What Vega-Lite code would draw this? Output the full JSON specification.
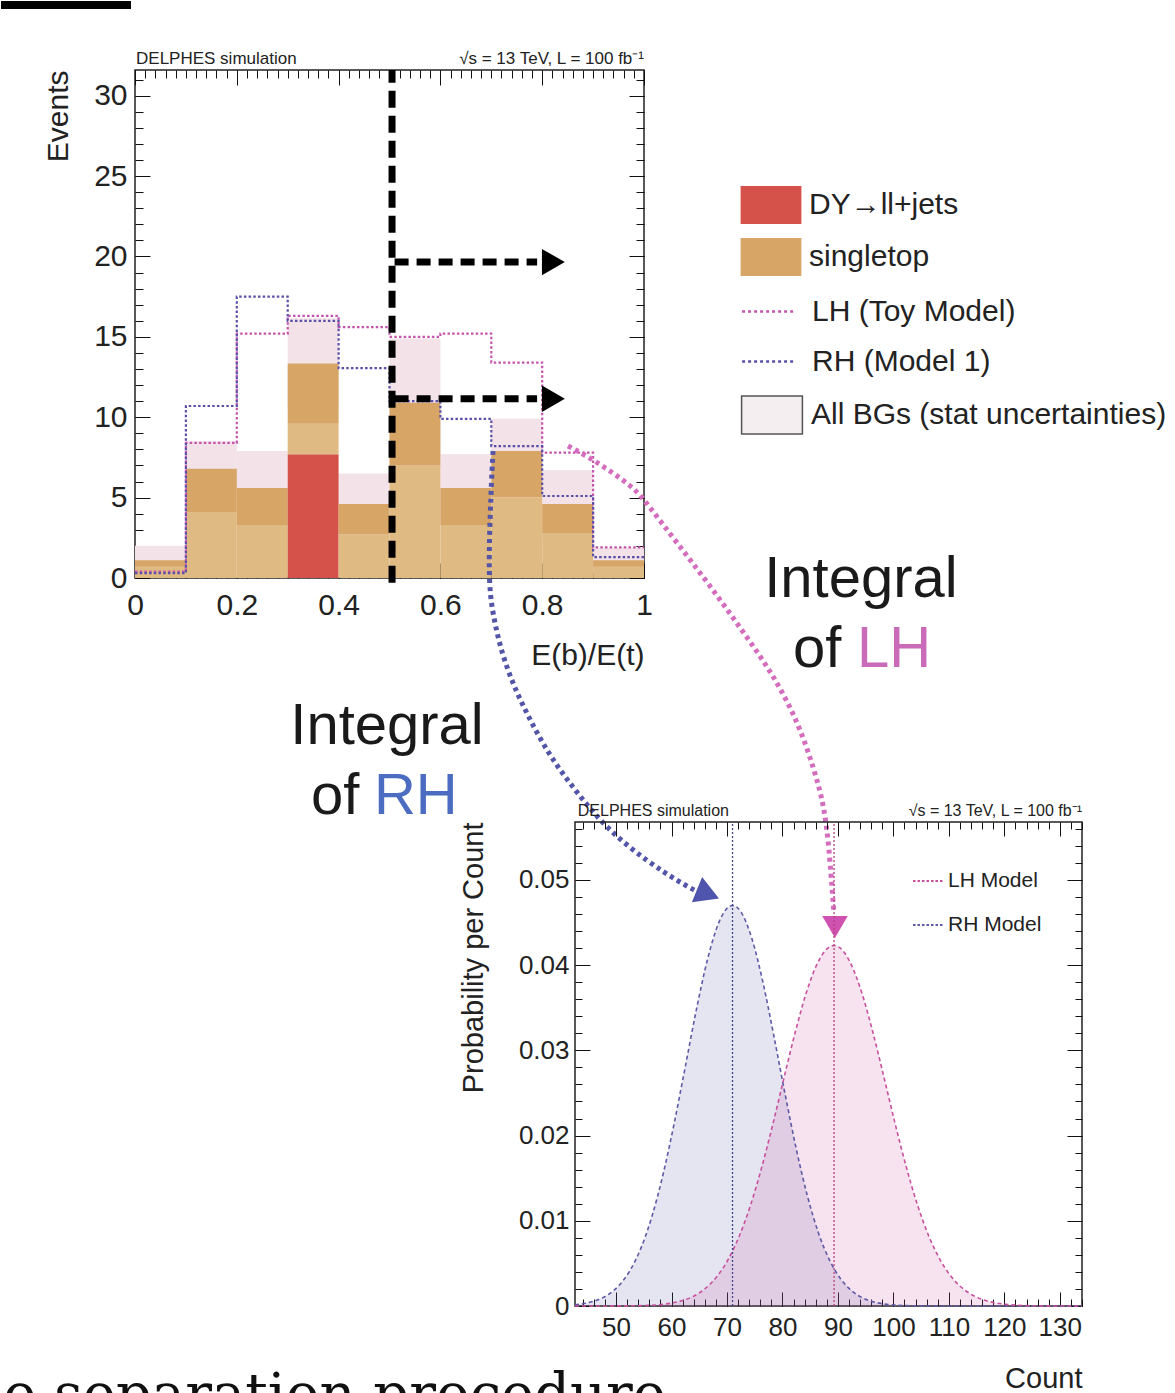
{
  "$schema": "https://vega.github.io/schema/vega-lite/v6.json",
  "padding": 0,
  "background": "white",
  "config": {
    "font": "Liberation Sans",
    "view": {"stroke": "#222", "strokeWidth": 1.5},
    "axis": {"domain": false, "grid": false, "tickColor": "#111", "tickWidth": 1, "labelColor": "#222", "titleColor": "#222", "titleFontWeight": "normal", "labelFont": "Liberation Sans", "titleFont": "Liberation Sans"},
    "legend": {"labelFont": "Liberation Sans"}
  },
  "datasets": {
    "stack": [
      {"lo": 0, "hi": 0.1, "process": "other BGs", "ord": 1, "events": 0.7},
      {"lo": 0, "hi": 0.1, "process": "singletop", "ord": 2, "events": 0.4},
      {"lo": 0.1, "hi": 0.2, "process": "other BGs", "ord": 1, "events": 4.1},
      {"lo": 0.1, "hi": 0.2, "process": "singletop", "ord": 2, "events": 2.7},
      {"lo": 0.2, "hi": 0.3, "process": "other BGs", "ord": 1, "events": 3.3},
      {"lo": 0.2, "hi": 0.3, "process": "singletop", "ord": 2, "events": 2.3},
      {"lo": 0.3, "hi": 0.4, "process": "DY→ll+jets", "ord": 0, "events": 7.7},
      {"lo": 0.3, "hi": 0.4, "process": "other BGs", "ord": 1, "events": 1.9},
      {"lo": 0.3, "hi": 0.4, "process": "singletop", "ord": 2, "events": 3.75},
      {"lo": 0.4, "hi": 0.5, "process": "other BGs", "ord": 1, "events": 2.7},
      {"lo": 0.4, "hi": 0.5, "process": "singletop", "ord": 2, "events": 1.9},
      {"lo": 0.5, "hi": 0.6, "process": "other BGs", "ord": 1, "events": 7.0},
      {"lo": 0.5, "hi": 0.6, "process": "singletop", "ord": 2, "events": 3.9},
      {"lo": 0.6, "hi": 0.7, "process": "other BGs", "ord": 1, "events": 3.3},
      {"lo": 0.6, "hi": 0.7, "process": "singletop", "ord": 2, "events": 2.3},
      {"lo": 0.7, "hi": 0.8, "process": "other BGs", "ord": 1, "events": 5.0},
      {"lo": 0.7, "hi": 0.8, "process": "singletop", "ord": 2, "events": 2.9},
      {"lo": 0.8, "hi": 0.9, "process": "other BGs", "ord": 1, "events": 2.8},
      {"lo": 0.8, "hi": 0.9, "process": "singletop", "ord": 2, "events": 1.8},
      {"lo": 0.9, "hi": 1.0, "process": "other BGs", "ord": 1, "events": 0.7},
      {"lo": 0.9, "hi": 1.0, "process": "singletop", "ord": 2, "events": 0.4}
    ],
    "band": [
      {"lo": 0, "hi": 0.1, "lower": 0.2, "upper": 2.0},
      {"lo": 0.1, "hi": 0.2, "lower": 5.1, "upper": 8.5},
      {"lo": 0.2, "hi": 0.3, "lower": 3.3, "upper": 7.9},
      {"lo": 0.3, "hi": 0.4, "lower": 10.55, "upper": 16.15},
      {"lo": 0.4, "hi": 0.5, "lower": 2.7, "upper": 6.5},
      {"lo": 0.5, "hi": 0.6, "lower": 6.9, "upper": 14.9},
      {"lo": 0.6, "hi": 0.7, "lower": 3.5, "upper": 7.7},
      {"lo": 0.7, "hi": 0.8, "lower": 5.9, "upper": 9.9},
      {"lo": 0.8, "hi": 0.9, "lower": 2.5, "upper": 6.7},
      {"lo": 0.9, "hi": 1.0, "lower": 0.3, "upper": 1.9}
    ],
    "steps": [
      {"model": "LH (Toy Model)", "x": 0, "events": 0.4},
      {"model": "LH (Toy Model)", "x": 0.1, "events": 8.4},
      {"model": "LH (Toy Model)", "x": 0.2, "events": 15.2},
      {"model": "LH (Toy Model)", "x": 0.3, "events": 16.3},
      {"model": "LH (Toy Model)", "x": 0.4, "events": 15.6},
      {"model": "LH (Toy Model)", "x": 0.5, "events": 15.0},
      {"model": "LH (Toy Model)", "x": 0.6, "events": 15.2},
      {"model": "LH (Toy Model)", "x": 0.7, "events": 13.4},
      {"model": "LH (Toy Model)", "x": 0.8, "events": 7.8},
      {"model": "LH (Toy Model)", "x": 0.9, "events": 1.9},
      {"model": "LH (Toy Model)", "x": 1.0, "events": 1.9},
      {"model": "RH (Model 1)", "x": 0, "events": 0.3},
      {"model": "RH (Model 1)", "x": 0.1, "events": 10.7},
      {"model": "RH (Model 1)", "x": 0.2, "events": 17.5},
      {"model": "RH (Model 1)", "x": 0.3, "events": 16.0},
      {"model": "RH (Model 1)", "x": 0.4, "events": 13.05},
      {"model": "RH (Model 1)", "x": 0.5, "events": 11.0},
      {"model": "RH (Model 1)", "x": 0.6, "events": 9.9},
      {"model": "RH (Model 1)", "x": 0.7, "events": 8.2},
      {"model": "RH (Model 1)", "x": 0.8, "events": 5.1},
      {"model": "RH (Model 1)", "x": 0.9, "events": 1.3},
      {"model": "RH (Model 1)", "x": 1.0, "events": 1.3}
    ],
    "dashArrows": [{"y": 19.65}, {"y": 11.15}],
    "arrowRH": [
      {"i": 1, "x": 0.7034, "y": 7.9},
      {"i": 2, "x": 0.6994, "y": 5.47},
      {"i": 3, "x": 0.6935, "y": -0.12},
      {"i": 4, "x": 0.7034, "y": -2.3},
      {"i": 5, "x": 0.7191, "y": -4.54},
      {"i": 6, "x": 0.7446, "y": -6.78},
      {"i": 7, "x": 0.778, "y": -8.96},
      {"i": 8, "x": 0.8173, "y": -11.2},
      {"i": 9, "x": 0.8703, "y": -13.44},
      {"i": 10, "x": 0.9293, "y": -15.68},
      {"i": 11, "x": 1.0079, "y": -17.67},
      {"i": 12, "x": 1.0727, "y": -18.97},
      {"i": 13, "x": 1.1022, "y": -19.47}
    ],
    "arrowLH": [
      {"i": 1, "x": 0.8507, "y": 8.21},
      {"i": 2, "x": 0.8959, "y": 7.46},
      {"i": 3, "x": 0.9804, "y": 5.66},
      {"i": 4, "x": 1.0079, "y": 4.54},
      {"i": 5, "x": 1.0668, "y": 2.11},
      {"i": 6, "x": 1.1316, "y": -0.56},
      {"i": 7, "x": 1.1965, "y": -3.42},
      {"i": 8, "x": 1.2554, "y": -6.1},
      {"i": 9, "x": 1.3026, "y": -8.96},
      {"i": 10, "x": 1.334, "y": -11.88},
      {"i": 11, "x": 1.3536, "y": -14.12},
      {"i": 12, "x": 1.3635, "y": -16.73},
      {"i": 13, "x": 1.3713, "y": -20.09},
      {"i": 14, "x": 1.3733, "y": -20.84}
    ],
    "curves": [
      {"model": "RH Model", "count": 42.6, "prob": 0.00015},
      {"model": "RH Model", "count": 44.5, "prob": 0.00032},
      {"model": "RH Model", "count": 46.5, "prob": 0.00067},
      {"model": "RH Model", "count": 48.5, "prob": 0.0013},
      {"model": "RH Model", "count": 50.5, "prob": 0.00239},
      {"model": "RH Model", "count": 52.5, "prob": 0.00415},
      {"model": "RH Model", "count": 54.5, "prob": 0.00682},
      {"model": "RH Model", "count": 56.5, "prob": 0.01058},
      {"model": "RH Model", "count": 58.5, "prob": 0.01552},
      {"model": "RH Model", "count": 60.5, "prob": 0.0215},
      {"model": "RH Model", "count": 62.5, "prob": 0.02815},
      {"model": "RH Model", "count": 64.5, "prob": 0.03483},
      {"model": "RH Model", "count": 66.5, "prob": 0.04071},
      {"model": "RH Model", "count": 68.5, "prob": 0.04496},
      {"model": "RH Model", "count": 70.5, "prob": 0.04692},
      {"model": "RH Model", "count": 71, "prob": 0.047},
      {"model": "RH Model", "count": 72.5, "prob": 0.04626},
      {"model": "RH Model", "count": 74.5, "prob": 0.04309},
      {"model": "RH Model", "count": 76.5, "prob": 0.03793},
      {"model": "RH Model", "count": 78.5, "prob": 0.03154},
      {"model": "RH Model", "count": 80.5, "prob": 0.02478},
      {"model": "RH Model", "count": 82.5, "prob": 0.0184},
      {"model": "RH Model", "count": 84.5, "prob": 0.01291},
      {"model": "RH Model", "count": 86.5, "prob": 0.00855},
      {"model": "RH Model", "count": 88.5, "prob": 0.00536},
      {"model": "RH Model", "count": 90.5, "prob": 0.00317},
      {"model": "RH Model", "count": 92.5, "prob": 0.00177},
      {"model": "RH Model", "count": 94.5, "prob": 0.00094},
      {"model": "RH Model", "count": 96.5, "prob": 0.00047},
      {"model": "RH Model", "count": 98.5, "prob": 0.00022},
      {"model": "RH Model", "count": 100.5, "prob": 0.0001},
      {"model": "RH Model", "count": 104, "prob": 0.00002},
      {"model": "RH Model", "count": 110, "prob": 0},
      {"model": "RH Model", "count": 134, "prob": 0},
      {"model": "LH Model", "count": 42.6, "prob": 0},
      {"model": "LH Model", "count": 52.3, "prob": 0.00002},
      {"model": "LH Model", "count": 56.3, "prob": 0.00009},
      {"model": "LH Model", "count": 58.3, "prob": 0.00019},
      {"model": "LH Model", "count": 60.3, "prob": 0.00038},
      {"model": "LH Model", "count": 62.3, "prob": 0.0007},
      {"model": "LH Model", "count": 64.3, "prob": 0.00126},
      {"model": "LH Model", "count": 66.3, "prob": 0.00217},
      {"model": "LH Model", "count": 68.3, "prob": 0.00355},
      {"model": "LH Model", "count": 70.3, "prob": 0.00557},
      {"model": "LH Model", "count": 72.3, "prob": 0.00834},
      {"model": "LH Model", "count": 74.3, "prob": 0.01195},
      {"model": "LH Model", "count": 76.3, "prob": 0.01637},
      {"model": "LH Model", "count": 78.3, "prob": 0.02143},
      {"model": "LH Model", "count": 80.3, "prob": 0.02684},
      {"model": "LH Model", "count": 82.3, "prob": 0.03212},
      {"model": "LH Model", "count": 84.3, "prob": 0.03676},
      {"model": "LH Model", "count": 86.3, "prob": 0.04021},
      {"model": "LH Model", "count": 88.3, "prob": 0.04206},
      {"model": "LH Model", "count": 89.3, "prob": 0.0423},
      {"model": "LH Model", "count": 90.3, "prob": 0.04206},
      {"model": "LH Model", "count": 92.3, "prob": 0.04021},
      {"model": "LH Model", "count": 94.3, "prob": 0.03676},
      {"model": "LH Model", "count": 96.3, "prob": 0.03212},
      {"model": "LH Model", "count": 98.3, "prob": 0.02684},
      {"model": "LH Model", "count": 100.3, "prob": 0.02143},
      {"model": "LH Model", "count": 102.3, "prob": 0.01637},
      {"model": "LH Model", "count": 104.3, "prob": 0.01195},
      {"model": "LH Model", "count": 106.3, "prob": 0.00834},
      {"model": "LH Model", "count": 108.3, "prob": 0.00557},
      {"model": "LH Model", "count": 110.3, "prob": 0.00355},
      {"model": "LH Model", "count": 112.3, "prob": 0.00217},
      {"model": "LH Model", "count": 114.3, "prob": 0.00126},
      {"model": "LH Model", "count": 116.3, "prob": 0.0007},
      {"model": "LH Model", "count": 118.3, "prob": 0.00038},
      {"model": "LH Model", "count": 120.3, "prob": 0.00019},
      {"model": "LH Model", "count": 122.3, "prob": 0.00009},
      {"model": "LH Model", "count": 124.3, "prob": 0.00004},
      {"model": "LH Model", "count": 126.3, "prob": 0.00002},
      {"model": "LH Model", "count": 128.3, "prob": 0.00001},
      {"model": "LH Model", "count": 134, "prob": 0}
    ],
    "means": [
      {"model": "RH Model", "count": 71},
      {"model": "LH Model", "count": 89.3}
    ]
  },
  "bounds": "flush",
  "spacing": 574,
  "resolve": {
    "scale": {"fill": "independent", "stroke": "independent", "shape": "independent", "color": "independent"},
    "legend": {"fill": "independent", "stroke": "independent", "shape": "independent", "color": "independent"}
  },
  "hconcat": [
    {
      "bounds": "flush",
      "spacing": 1266,
      "resolve": {
        "scale": {"fill": "independent", "stroke": "independent", "shape": "independent", "color": "independent"},
        "legend": {"fill": "independent", "stroke": "independent", "shape": "independent", "color": "independent"}
      },
      "vconcat": [
        {
          "bounds": "flush",
          "spacing": 10,
          "resolve": {
            "scale": {"fill": "independent", "stroke": "independent", "shape": "independent", "color": "independent"},
            "legend": {"fill": "independent", "stroke": "independent", "shape": "independent", "color": "independent"}
          },
          "hconcat": [
            {
              "width": 124,
              "height": 508,
              "data": {"values": []},
              "mark": {"type": "point", "opacity": 0},
              "view": {"stroke": "transparent"}
            },
            {
              "width": 509,
              "height": 508,
              "resolve": {"axis": {"x": "independent", "y": "independent"}},
              "layer": [
                {
                  "data": {"name": "band"},
                  "mark": {"type": "rect", "fill": "#f3e2e8"},
                  "encoding": {
                    "x": {"field": "lo", "type": "quantitative", "scale": {"domain": [0, 1], "nice": false, "zero": false}, "axis": {"orient": "bottom", "tickCount": 50, "tickSize": -8, "labels": false, "title": null}},
                    "x2": {"field": "hi"},
                    "y": {"field": "lower", "type": "quantitative", "scale": {"domain": [0, 31.6], "nice": false, "zero": false}, "axis": {"orient": "left", "tickCount": 32, "tickSize": -8, "labels": false, "title": null}},
                    "y2": {"field": "upper"}
                  }
                },
                {
                  "data": {"name": "stack"},
                  "transform": [{"stack": "events", "groupby": ["lo"], "sort": [{"field": "ord", "order": "ascending"}], "as": ["y0", "y1"]}],
                  "mark": {"type": "rect"},
                  "encoding": {
                    "x": {"field": "lo", "type": "quantitative", "scale": {"domain": [0, 1], "nice": false, "zero": false}, "axis": {"orient": "bottom", "values": [0, 0.2, 0.4, 0.6, 0.8, 1], "tickSize": -15, "labelPadding": 27, "labelFontSize": 30, "labelFlush": false, "labelOverlap": false, "labelExpr": "format(datum.value, '.1~f')", "title": "E(b)/E(t)", "titleAnchor": "end", "titleFontSize": 30, "titlePadding": 20}},
                    "x2": {"field": "hi"},
                    "y": {"field": "y0", "type": "quantitative", "scale": {"domain": [0, 31.6], "nice": false, "zero": false}, "axis": {"orient": "left", "values": [0, 5, 10, 15, 20, 25, 30], "tickSize": -15, "labelPadding": 23, "labelFontSize": 30, "labelOverlap": false, "title": "Events", "titleAnchor": "end", "titleFontSize": 30, "titlePadding": 20}},
                    "y2": {"field": "y1"},
                    "fill": {
                      "field": "process",
                      "type": "nominal",
                      "scale": {"domain": ["DY→ll+jets", "singletop", "other BGs"], "range": ["#d5524a", "#d7a566", "#dfba82"]},
                      "legend": {
                        "title": null, "orient": "none", "legendX": 617, "legendY": 116, "padding": 0,
                        "values": ["DY→ll+jets", "singletop"],
                        "symbolType": "M-1.6,-1H1.6V1H-1.6Z", "symbolSize": 1444, "symbolStrokeWidth": 0, "symbolOpacity": 1,
                        "labelFontSize": 30, "labelColor": "#222", "labelOffset": 19, "labelLimit": 800, "rowPadding": 14
                      }
                    }
                  }
                },
                {
                  "data": {"name": "steps"},
                  "mark": {"type": "line", "interpolate": "step-after", "strokeDash": [2.5, 2.2], "strokeWidth": 2.2},
                  "encoding": {
                    "x": {"field": "x", "type": "quantitative", "scale": {"domain": [0, 1], "nice": false, "zero": false}, "axis": {"orient": "top", "values": [0, 0.2, 0.4, 0.6, 0.8, 1], "tickSize": -15, "labels": false, "title": null}},
                    "y": {"field": "events", "type": "quantitative", "scale": {"domain": [0, 31.6], "nice": false, "zero": false}, "axis": {"orient": "right", "values": [0, 5, 10, 15, 20, 25, 30], "tickSize": -15, "labels": false, "title": null}},
                    "stroke": {
                      "field": "model",
                      "type": "nominal",
                      "scale": {"domain": ["LH (Toy Model)", "RH (Model 1)"], "range": ["#c455ad", "#5a50a8"]},
                      "legend": {
                        "title": null, "orient": "none", "legendX": 617, "legendY": 221, "padding": 0,
                        "symbolType": "M-1.6,0H1.1", "symbolSize": 1444, "symbolStrokeWidth": 2.5, "symbolDash": [3, 3], "symbolOpacity": 1,
                        "labelFontSize": 30, "labelColor": "#222", "labelOffset": 19, "labelLimit": 800, "rowPadding": 14
                      }
                    }
                  }
                },
                {
                  "data": {"values": []},
                  "mark": {"type": "point", "filled": true, "fill": "#f4eef0", "stroke": "#555", "strokeWidth": 1.3, "opacity": 1},
                  "encoding": {
                    "shape": {
                      "datum": "All BGs (stat uncertainties)",
                      "scale": {"domain": ["All BGs (stat uncertainties)"], "range": ["M-1.6,-1H1.6V1H-1.6Z"]},
                      "legend": {
                        "title": null, "orient": "none", "legendX": 617, "legendY": 325, "padding": 0,
                        "symbolSize": 1444, "symbolOpacity": 1,
                        "labelFontSize": 30, "labelColor": "#222", "labelOffset": 19, "labelLimit": 800
                      }
                    }
                  }
                },
                {
                  "data": {"values": [{}]},
                  "mark": {"type": "rule", "color": "#000", "strokeWidth": 7, "strokeDash": [17, 8]},
                  "encoding": {
                    "x": {"datum": 0.505, "type": "quantitative", "scale": {"domain": [0, 1], "nice": false, "zero": false}, "axis": {"orient": "top", "tickCount": 50, "tickSize": -8, "labels": false, "title": null}},
                    "y": {"datum": -0.3, "type": "quantitative", "scale": {"domain": [0, 31.6], "nice": false, "zero": false}, "axis": {"orient": "right", "tickCount": 32, "tickSize": -8, "labels": false, "title": null}},
                    "y2": {"datum": 31.6}
                  }
                },
                {
                  "data": {"name": "dashArrows"},
                  "mark": {"type": "rule", "color": "#000", "strokeWidth": 7, "strokeDash": [14, 8]},
                  "encoding": {
                    "x": {"datum": 0.51, "type": "quantitative", "axis": null},
                    "x2": {"datum": 0.79},
                    "y": {"field": "y", "type": "quantitative", "axis": null}
                  }
                },
                {
                  "data": {"name": "dashArrows"},
                  "mark": {"type": "point", "shape": "triangle-right", "filled": true, "color": "#000", "opacity": 1, "size": 700},
                  "encoding": {
                    "x": {"datum": 0.822, "type": "quantitative", "axis": null},
                    "y": {"field": "y", "type": "quantitative", "axis": null}
                  }
                },
                {
                  "data": {"name": "arrowRH"},
                  "mark": {"type": "line", "interpolate": "basis", "color": "#5356a8", "strokeWidth": 5, "strokeDash": [4, 4]},
                  "encoding": {
                    "x": {"field": "x", "type": "quantitative", "axis": null},
                    "y": {"field": "y", "type": "quantitative", "axis": null},
                    "order": {"field": "i", "type": "quantitative"}
                  }
                },
                {
                  "data": {"name": "arrowLH"},
                  "mark": {"type": "line", "interpolate": "basis", "color": "#d46dbd", "strokeWidth": 5, "strokeDash": [4, 4]},
                  "encoding": {
                    "x": {"field": "x", "type": "quantitative", "axis": null},
                    "y": {"field": "y", "type": "quantitative", "axis": null},
                    "order": {"field": "i", "type": "quantitative"}
                  }
                },
                {
                  "data": {"values": [{}]},
                  "mark": {"type": "point", "shape": "triangle-right", "angle": 22, "filled": true, "color": "#4f55ac", "opacity": 1, "size": 750},
                  "encoding": {
                    "x": {"datum": 1.1257, "type": "quantitative", "axis": null},
                    "y": {"datum": -19.66, "type": "quantitative", "axis": null}
                  }
                },
                {
                  "data": {"values": [{}]},
                  "mark": {"type": "point", "shape": "triangle-down", "filled": true, "color": "#cf52b0", "opacity": 1, "size": 650},
                  "encoding": {
                    "x": {"datum": 1.3752, "type": "quantitative", "axis": null},
                    "y": {"datum": -21.71, "type": "quantitative", "axis": null}
                  }
                },
                {
                  "data": {"values": [{}]},
                  "mark": {"type": "text", "text": "Integral", "align": "center", "baseline": "alphabetic", "fontSize": 58, "color": "#1a1a1a"},
                  "encoding": {
                    "x": {"datum": 1.4263, "type": "quantitative", "axis": null},
                    "y": {"datum": -1.18, "type": "quantitative", "axis": null}
                  }
                },
                {
                  "data": {"values": [{}]},
                  "mark": {"type": "text", "text": "of", "align": "left", "baseline": "alphabetic", "fontSize": 58, "color": "#1a1a1a"},
                  "encoding": {
                    "x": {"datum": 1.2927, "type": "quantitative", "axis": null},
                    "y": {"datum": -5.54, "type": "quantitative", "axis": null}
                  }
                },
                {
                  "data": {"values": [{}]},
                  "mark": {"type": "text", "text": "LH", "align": "left", "baseline": "alphabetic", "fontSize": 58, "color": "#c96bb8"},
                  "encoding": {
                    "x": {"datum": 1.4185, "type": "quantitative", "axis": null},
                    "y": {"datum": -5.54, "type": "quantitative", "axis": null}
                  }
                },
                {
                  "data": {"values": [{}]},
                  "mark": {"type": "text", "text": "Integral", "align": "center", "baseline": "alphabetic", "fontSize": 58, "color": "#1a1a1a"},
                  "encoding": {
                    "x": {"datum": 0.4951, "type": "quantitative", "axis": null},
                    "y": {"datum": -10.33, "type": "quantitative", "axis": null}
                  }
                },
                {
                  "data": {"values": [{}]},
                  "mark": {"type": "text", "text": "of", "align": "left", "baseline": "alphabetic", "fontSize": 58, "color": "#1a1a1a"},
                  "encoding": {
                    "x": {"datum": 0.3458, "type": "quantitative", "axis": null},
                    "y": {"datum": -14.68, "type": "quantitative", "axis": null}
                  }
                },
                {
                  "data": {"values": [{}]},
                  "mark": {"type": "text", "text": "RH", "align": "left", "baseline": "alphabetic", "fontSize": 58, "color": "#4b6cc1"},
                  "encoding": {
                    "x": {"datum": 0.4695, "type": "quantitative", "axis": null},
                    "y": {"datum": -14.68, "type": "quantitative", "axis": null}
                  }
                },
                {
                  "data": {"values": [{}]},
                  "mark": {"type": "text", "text": "DELPHES simulation", "align": "left", "baseline": "alphabetic", "fontSize": 17, "color": "#222"},
                  "encoding": {
                    "x": {"datum": 0.002, "type": "quantitative", "axis": null},
                    "y": {"datum": 31.99, "type": "quantitative", "axis": null}
                  }
                },
                {
                  "data": {"values": [{}]},
                  "mark": {"type": "text", "text": "√s = 13 TeV, L = 100 fb⁻¹", "align": "right", "baseline": "alphabetic", "fontSize": 17, "color": "#222"},
                  "encoding": {
                    "x": {"datum": 1.0, "type": "quantitative", "axis": null},
                    "y": {"datum": 31.99, "type": "quantitative", "axis": null}
                  }
                },
                {
                  "data": {"values": [{}]},
                  "mark": {"type": "rect", "color": "#000"},
                  "encoding": {
                    "x": {"datum": -0.26326, "type": "quantitative", "axis": null},
                    "x2": {"datum": -0.00786},
                    "y": {"datum": 35.89, "type": "quantitative", "axis": null},
                    "y2": {"datum": 35.39}
                  }
                }
              ]
            }
          ]
        },
        {
          "width": 700,
          "height": 58,
          "view": {"stroke": "transparent"},
          "data": {"values": [{}]},
          "mark": {"type": "text", "text": "the separation procedure", "align": "right", "baseline": "alphabetic", "font": "DejaVu Serif", "fontSize": 56, "color": "#111", "clip": true},
          "encoding": {
            "x": {"datum": 0.95, "type": "quantitative", "scale": {"domain": [0, 1], "nice": false, "zero": false}, "axis": null},
            "y": {"datum": -0.3276, "type": "quantitative", "scale": {"domain": [0, 1], "nice": false, "zero": false}, "axis": null}
          }
        }
      ]
    },
    {
      "bounds": "flush",
      "spacing": 30,
      "resolve": {
        "scale": {"fill": "independent", "stroke": "independent", "shape": "independent", "color": "independent"},
        "legend": {"fill": "independent", "stroke": "independent", "shape": "independent", "color": "independent"}
      },
      "vconcat": [
        {
          "width": 507,
          "height": 722,
          "data": {"values": []},
          "mark": {"type": "point", "opacity": 0},
          "view": {"stroke": "transparent"}
        },
        {
          "width": 507,
          "height": 484,
          "resolve": {"axis": {"x": "independent", "y": "independent"}},
          "layer": [
            {
              "data": {"name": "curves"},
              "mark": {"type": "area", "interpolate": "monotone", "fillOpacity": 0.16},
              "encoding": {
                "x": {"field": "count", "type": "quantitative", "scale": {"domain": [42.6, 134], "nice": false, "zero": false}, "axis": {"orient": "bottom", "values": [50, 60, 70, 80, 90, 100, 110, 120, 130], "tickSize": -14, "labelPadding": 22, "labelFontSize": 26, "labelFlush": false, "labelOverlap": false, "title": "Count", "titleAnchor": "end", "titleFontSize": 29, "titlePadding": 24}},
                "y": {"field": "prob", "type": "quantitative", "stack": null, "scale": {"domain": [0, 0.0568], "nice": false, "zero": false}, "axis": {"orient": "left", "values": [0, 0.01, 0.02, 0.03, 0.04, 0.05], "tickSize": -15, "labelPadding": 21, "labelFontSize": 26, "labelOverlap": false, "labelExpr": "datum.value == 0 ? '0' : format(datum.value, '.2f')", "title": "Probability per Count", "titleAnchor": "end", "titleFontSize": 29, "titlePadding": 30}},
                "fill": {
                  "field": "model",
                  "type": "nominal",
                  "scale": {"domain": ["RH Model", "LH Model"], "range": ["#5e5aa6", "#c8509d"]},
                  "legend": null
                }
              }
            },
            {
              "data": {"name": "curves"},
              "mark": {"type": "line", "interpolate": "monotone", "strokeDash": [4, 3], "strokeWidth": 1.6},
              "encoding": {
                "x": {"field": "count", "type": "quantitative", "scale": {"domain": [42.6, 134], "nice": false, "zero": false}, "axis": {"orient": "bottom", "tickCount": 46, "tickSize": -7, "labels": false, "title": null}},
                "y": {"field": "prob", "type": "quantitative", "scale": {"domain": [0, 0.0568], "nice": false, "zero": false}, "axis": {"orient": "left", "tickCount": 28, "tickSize": -7, "labels": false, "title": null}},
                "stroke": {
                  "field": "model",
                  "type": "nominal",
                  "scale": {"domain": ["LH Model", "RH Model"], "range": ["#c8509d", "#5e5aa6"]},
                  "legend": {
                    "title": null, "orient": "none", "legendX": 337, "legendY": 43, "padding": 0,
                    "symbolType": "M-1,0H1", "symbolSize": 900, "symbolStrokeWidth": 2, "symbolDash": [2.5, 2], "symbolOpacity": 1,
                    "labelFontSize": 21, "labelColor": "#222", "labelOffset": 4, "rowPadding": 18
                  }
                }
              }
            },
            {
              "data": {"name": "means"},
              "mark": {"type": "rule", "strokeDash": [2, 2], "strokeWidth": 1.3},
              "encoding": {
                "x": {"field": "count", "type": "quantitative", "scale": {"domain": [42.6, 134], "nice": false, "zero": false}, "axis": {"orient": "top", "values": [50, 60, 70, 80, 90, 100, 110, 120, 130], "tickSize": -14, "labels": false, "title": null}},
                "y": {"datum": 0, "type": "quantitative", "scale": {"domain": [0, 0.0568], "nice": false, "zero": false}, "axis": {"orient": "right", "values": [0, 0.01, 0.02, 0.03, 0.04, 0.05], "tickSize": -15, "labels": false, "title": null}},
                "y2": {"datum": 0.0568},
                "color": {"field": "model", "type": "nominal", "scale": {"domain": ["RH Model", "LH Model", "none"], "range": ["#44448a", "#b8407f", "#000"]}, "legend": null}
              }
            },
            {
              "data": {"values": [{}]},
              "mark": {"type": "text", "text": "DELPHES simulation", "align": "left", "baseline": "alphabetic", "fontSize": 16, "color": "#222"},
              "encoding": {
                "x": {"datum": 43.1, "type": "quantitative", "scale": {"domain": [42.6, 134], "nice": false, "zero": false}, "axis": {"orient": "top", "tickCount": 46, "tickSize": -7, "labels": false, "title": null}},
                "y": {"datum": 0.0575, "type": "quantitative", "scale": {"domain": [0, 0.0568], "nice": false, "zero": false}, "axis": {"orient": "right", "tickCount": 28, "tickSize": -7, "labels": false, "title": null}}
              }
            },
            {
              "data": {"values": [{}]},
              "mark": {"type": "text", "text": "√s = 13 TeV, L = 100 fb⁻¹", "align": "right", "baseline": "alphabetic", "fontSize": 16, "color": "#222"},
              "encoding": {
                "x": {"datum": 134, "type": "quantitative", "axis": null},
                "y": {"datum": 0.0575, "type": "quantitative", "axis": null}
              }
            }
          ]
        }
      ]
    }
  ]
}
